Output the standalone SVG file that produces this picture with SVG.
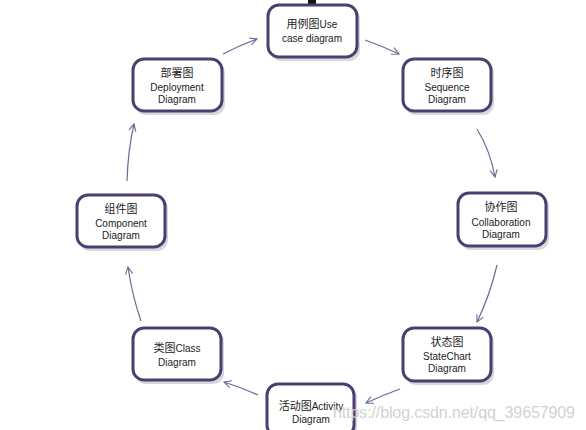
<svg xmlns="http://www.w3.org/2000/svg" width="586" height="430" viewBox="0 0 586 430">
<style>
.box{fill:#fff;stroke:#4b3f72;stroke-width:3}
.sh{fill:#bdbdc6;opacity:0.6}
.t{font-family:"Liberation Sans","Noto Sans CJK SC",sans-serif;font-size:10px;fill:#222;text-anchor:middle}
.c{font-family:"Noto Sans CJK SC","Liberation Sans",sans-serif;font-size:11px;fill:#222;text-anchor:middle}
.e{fill:none;stroke:#6e6796;stroke-width:1.2}
.wm{font-family:"Liberation Sans",sans-serif;font-size:16px;fill:#d2d2d2}
</style>
<defs>
<marker id="a" viewBox="0 0 10 10" refX="9" refY="5" markerWidth="9" markerHeight="9" orient="auto" markerUnits="userSpaceOnUse">
<path d="M1,1 L9,5 L1,9" fill="none" stroke="#6e6796" stroke-width="1.2"/>
</marker>
</defs>
<rect width="586" height="430" fill="#fff"/>
<rect x="308" y="0" width="8" height="4" fill="#111"/>
<g id="connectors">
<path class="e" d="M223,54 Q240,45 257,39" marker-end="url(#a)"/>
<path class="e" d="M365,40 Q382,46 399,54" marker-end="url(#a)"/>
<path class="e" d="M477,129 Q490,150 495,177" marker-end="url(#a)"/>
<path class="e" d="M497,265 Q490,295 477,322" marker-end="url(#a)"/>
<path class="e" d="M400,389 Q383,395 366,403" marker-end="url(#a)"/>
<path class="e" d="M258,395 Q240,387 224,382" marker-end="url(#a)"/>
<path class="e" d="M141,321 Q132,295 128,267" marker-end="url(#a)"/>
<path class="e" d="M127,181 Q128,150 134,124" marker-end="url(#a)"/>
</g>
<g id="usecase">
<rect class="sh" x="270" y="8" width="90" height="53" rx="11"/>
<rect class="box" x="268" y="5" width="89" height="52" rx="11"/>
<text class="c" x="312" y="28">用例图<tspan class="t" font-family="Liberation Sans" font-size="10">Use</tspan></text>
<text class="t" x="312" y="42">case diagram</text>
</g>
<g id="deployment">
<rect class="sh" x="135" y="62" width="90" height="53" rx="11"/>
<rect class="box" x="133" y="59" width="89" height="52" rx="11"/>
<text class="c" x="177" y="77">部署图</text>
<text class="t" x="177" y="91">Deployment</text>
<text class="t" x="177" y="103">Diagram</text>
</g>
<g id="sequence">
<rect class="sh" x="405" y="62" width="89" height="53" rx="11"/>
<rect class="box" x="403" y="59" width="88" height="52" rx="11"/>
<text class="c" x="447" y="77">时序图</text>
<text class="t" x="447" y="91">Sequence</text>
<text class="t" x="447" y="103">Diagram</text>
</g>
<g id="collaboration">
<rect class="sh" x="460" y="196" width="89" height="54" rx="11"/>
<rect class="box" x="458" y="193" width="88" height="53" rx="11"/>
<text class="c" x="501" y="211">协作图</text>
<text class="t" x="501" y="226">Collaboration</text>
<text class="t" x="501" y="238">Diagram</text>
</g>
<g id="component">
<rect class="sh" x="79" y="198" width="89" height="53" rx="11"/>
<rect class="box" x="77" y="195" width="88" height="52" rx="11"/>
<text class="c" x="121" y="213">组件图</text>
<text class="t" x="121" y="227">Component</text>
<text class="t" x="121" y="239">Diagram</text>
</g>
<g id="class">
<rect class="sh" x="135" y="331" width="89" height="53" rx="11"/>
<rect class="box" x="133" y="328" width="88" height="52" rx="11"/>
<text class="c" x="177" y="352">类图<tspan font-family="Liberation Sans" font-size="10">Class</tspan></text>
<text class="t" x="177" y="366">Diagram</text>
</g>
<g id="statechart">
<rect class="sh" x="405" y="331" width="89" height="54" rx="11"/>
<rect class="box" x="403" y="328" width="88" height="53" rx="11"/>
<text class="c" x="447" y="346">状态图</text>
<text class="t" x="447" y="360">StateChart</text>
<text class="t" x="447" y="372">Diagram</text>
</g>
<g id="activity">
<rect class="sh" x="269" y="387" width="88" height="53" rx="11"/>
<rect class="box" x="267" y="384" width="87" height="52" rx="11"/>
<text class="c" x="311" y="410">活动图<tspan font-family="Liberation Sans" font-size="10">Activity</tspan></text>
<text class="t" x="311" y="423">Diagram</text>
</g>
<text class="wm" x="333" y="418" textLength="242">https://blog.csdn.net/qq_39657909</text>
</svg>
